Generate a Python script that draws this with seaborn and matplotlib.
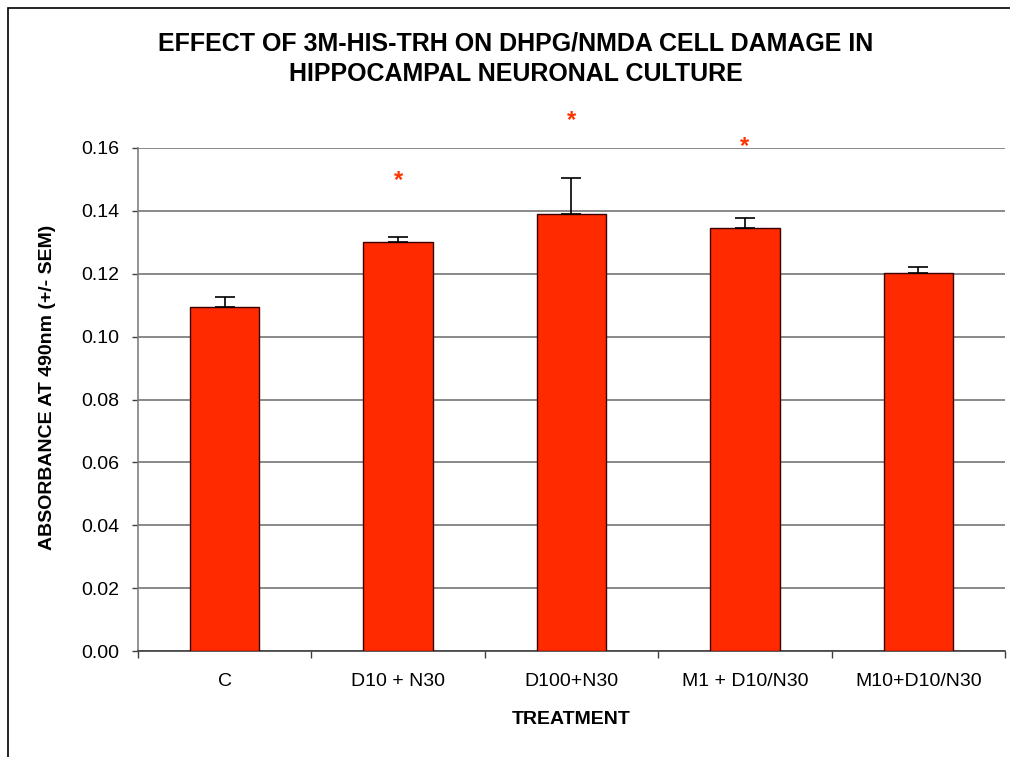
import matplotlib
matplotlib.use("Agg")
import matplotlib.pyplot as plt
import seaborn as sns
import pandas as pd
import numpy as np
from matplotlib.patches import Rectangle

categories = ["C", "D10 + N30", "D100+N30", "M1 + D10/N30", "M10+D10/N30"]
values = [0.1095, 0.1301, 0.1390, 0.1347, 0.1203]
sem = [0.0031, 0.0016, 0.0113, 0.0030, 0.0018]
star_y = [None, 0.1495, 0.1688, 0.1606, None]
yticks = [0.00, 0.02, 0.04, 0.06, 0.08, 0.10, 0.12, 0.14, 0.16]

sns.set_theme(style="white")
plt.rcParams['font.family'] = ['Liberation Sans', 'DejaVu Sans']
plt.rcParams['text.color'] = 'black'
plt.rcParams['axes.labelcolor'] = 'black'
plt.rcParams['xtick.color'] = 'black'
plt.rcParams['ytick.color'] = 'black'

df = pd.DataFrame({"treatment": categories, "absorbance": values})

fig = plt.figure(figsize=(10.1, 7.57), dpi=100)
ax = fig.add_axes([0.1366, 0.140, 0.8584, 0.6645])

bar_color = "#FF2A00"
sns.barplot(data=df, x="treatment", y="absorbance", color=bar_color, saturation=1,
            width=0.4, edgecolor="#3a0000", linewidth=1.0, errorbar=None, ax=ax, zorder=3)

x = np.arange(len(categories))
ax.errorbar(x, values, yerr=[np.zeros(len(sem)), sem], fmt="none", ecolor="black",
            elinewidth=1.2, capsize=7, capthick=1.2, zorder=4)

for i, s in enumerate(star_y):
    if s is not None:
        ax.text(i, s, "*", color="#FF3300", ha="center", va="center", fontsize=17,
                fontweight="bold", clip_on=False)

ax.set_xlim(-0.5, len(categories) - 0.5)
ax.set_ylim(0, 0.16)
ax.set_yticks(yticks)
ax.set_yticklabels([f"{t:.2f}" for t in yticks], fontsize=14)
ax.yaxis.grid(True, color="#808080", linewidth=1.3)
ax.set_axisbelow(True)

ax.set_xticks(x)
ax.set_xticklabels(categories, fontsize=14)
ax.set_xticks(np.arange(-0.5, len(categories)), minor=True)
ax.tick_params(axis="x", which="major", length=0, pad=16)
ax.tick_params(axis="x", which="minor", length=5, width=1, color="#404040", direction="out", bottom=True)
ax.tick_params(axis="y", which="major", length=4.5, width=1, color="#404040", direction="out", left=True, pad=9)

for side in ["top", "right"]:
    ax.spines[side].set_visible(False)
ax.spines["left"].set_color("#808080")
ax.spines["left"].set_linewidth(1.2)
ax.spines["bottom"].set_color("#404040")
ax.spines["bottom"].set_linewidth(1.2)

ax.set_xlabel("TREATMENT", fontsize=14, fontweight="bold")
ax.set_ylabel("ABSORBANCE AT 490nm (+/- SEM)", fontsize=14, fontweight="bold")
ax.xaxis.set_label_coords(0.5, -0.120)
ax.yaxis.set_label_coords(-0.095, 0.525)

fig.text(0.511, 0.9225, "EFFECT OF 3M-HIS-TRH ON DHPG/NMDA CELL DAMAGE IN\nHIPPOCAMPAL NEURONAL CULTURE",
         ha="center", va="center", fontsize=18, fontweight="bold", linespacing=1.38)

fig.patches.append(Rectangle((0.008, -0.1), 1.2, 1.09, transform=fig.transFigure,
                             fill=False, edgecolor="black", linewidth=1.2))

fig.savefig("out.png", dpi=100)
